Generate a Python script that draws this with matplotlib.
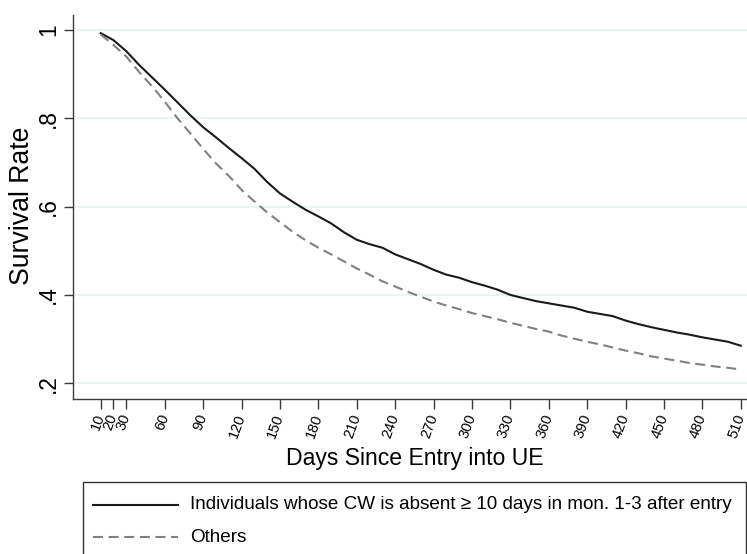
import matplotlib
matplotlib.use("Agg")
import matplotlib.pyplot as plt
from matplotlib.lines import Line2D
from matplotlib.patches import Rectangle
from matplotlib.transforms import Affine2D

plt.rcParams['font.family'] = ['Liberation Sans', 'DejaVu Sans']

# ---- data ----
days = [10, 20, 30, 40, 50, 60, 70, 80, 90, 100,
        110, 120, 130, 140, 150, 160, 170, 180, 190, 200,
        210, 220, 230, 240, 250, 260, 270, 280, 290, 300,
        310, 320, 330, 340, 350, 360, 370, 380, 390, 400,
        410, 420, 430, 440, 450, 460, 470, 480, 490, 500, 510]

surv_absent = [0.993, 0.977, 0.952, 0.921, 0.893, 0.865, 0.836, 0.807, 0.780, 0.757,
               0.733, 0.710, 0.686, 0.656, 0.630, 0.611, 0.593, 0.578, 0.562, 0.542,
               0.525, 0.515, 0.507, 0.492, 0.481, 0.470, 0.457, 0.446, 0.439, 0.429,
               0.421, 0.412, 0.400, 0.393, 0.386, 0.381, 0.376, 0.371, 0.362, 0.357,
               0.352, 0.342, 0.334, 0.327, 0.321, 0.315, 0.310, 0.304, 0.299, 0.294, 0.285]

surv_others = [0.990, 0.966, 0.940, 0.905, 0.873, 0.838, 0.800, 0.766, 0.731, 0.698,
               0.670, 0.638, 0.612, 0.587, 0.565, 0.543, 0.524, 0.507, 0.492, 0.476,
               0.460, 0.446, 0.431, 0.419, 0.407, 0.396, 0.385, 0.376, 0.368, 0.359,
               0.352, 0.345, 0.337, 0.330, 0.323, 0.317, 0.308, 0.301, 0.294, 0.288,
               0.281, 0.274, 0.268, 0.261, 0.256, 0.251, 0.246, 0.242, 0.238, 0.235, 0.231]

xticks = [10, 20, 30, 60, 90, 120, 150, 180, 210, 240, 270, 300, 330,
          360, 390, 420, 450, 480, 510]
yticks = [0.2, 0.4, 0.6, 0.8, 1.0]
yticklabels = ['.2', '.4', '.6', '.8', '1']

label_absent = "Individuals whose CW is absent \u2265 10 days in mon. 1-3 after entry"
label_others = "Others"

# ---- figure ----
W, H = 747, 554
fig = plt.figure(figsize=(W / 100, H / 100), dpi=100)
fig.patch.set_facecolor('white')

left_px, right_px, top_px, bottom_px = 73.3, 757.0, 15.0, 398.7
ax = fig.add_axes([left_px / W, (H - bottom_px) / H,
                   (right_px - left_px) / W, (bottom_px - top_px) / H])

solid_col = '#1a1a1a'
dash_col = '#808080'
ax.plot(days, surv_absent, color=solid_col, lw=1.5, solid_joinstyle='round')
ax.plot(days, surv_others, color=dash_col, lw=1.5, dashes=(4.8, 2.7))

ax.set_xlim(-11.4, 522.7)
ax.set_ylim(0.165, 1.034)

for s in ['top', 'right']:
    ax.spines[s].set_visible(False)
for s in ['left', 'bottom']:
    ax.spines[s].set_color('#3c3c3c')
    ax.spines[s].set_linewidth(1.0)

ax.set_yticks(yticks)
ax.set_yticklabels(yticklabels, rotation=90, va='center', fontsize=16.4)
ax.set_xticks(xticks)
ax.set_xticklabels([str(t) for t in xticks], rotation=70, ha='right', va='center',
                   rotation_mode='anchor', fontsize=10.5)
ax.tick_params(axis='y', length=6.5, width=1.0, color='#3c3c3c', pad=3)
ax.tick_params(axis='x', length=7, width=1.0, color='#3c3c3c', pad=4.5)

ax.yaxis.grid(True, color='#eaf2f3', lw=1.3)
ax.set_axisbelow(True)

ax.set_ylabel('Survival Rate', fontsize=19.2)
ax.yaxis.label.set_va('center')
ax.yaxis.set_label_coords(22.5, H - 206.0, transform=Affine2D())
ax.set_xlabel('Days Since Entry into UE', fontsize=16.6)
ax.xaxis.label.set_va('baseline')
ax.xaxis.set_label_coords(415.0, H - 465.0, transform=Affine2D())

# ---- legend (drawn in pixel coordinates) ----
px = Affine2D()
fig.add_artist(Rectangle((82.7, -10), 745.7 - 82.7, (H - 482.0) + 10,
                         transform=px, fill=False, edgecolor='#333333', lw=1.0))
rows = [(504.5, solid_col, None, label_absent),
        (537.0, dash_col, (4.8, 2.7), label_others)]
for y, col, dsh, lab in rows:
    ln = Line2D([92.7, 178.3], [H - y, H - y], transform=px, color=col, lw=1.5)
    if dsh is not None:
        ln.set_dashes(dsh)
    fig.add_artist(ln)
    fig.text(190.5, H - y, lab, transform=px, va='center', ha='left', fontsize=13.6)

fig.savefig('out.png', dpi=100)
